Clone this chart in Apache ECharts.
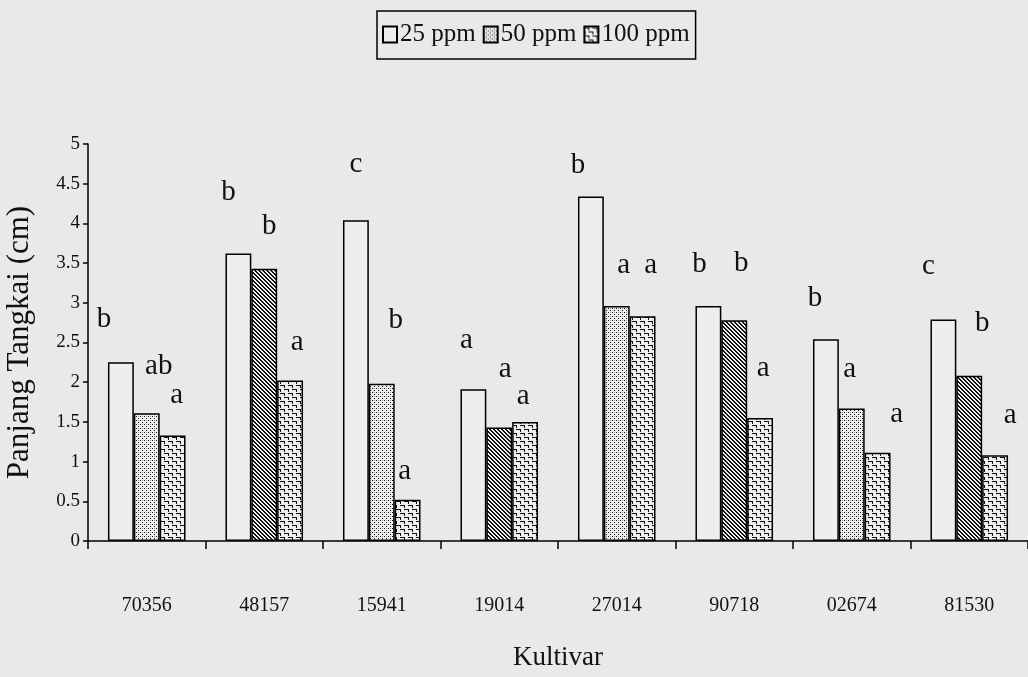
<!DOCTYPE html>
<html>
<head>
<meta charset="utf-8">
<script src="https://cdn.jsdelivr.net/npm/echarts@6/dist/echarts.min.js"></script>
<style>
  html, body { margin: 0; padding: 0; background: #e9e9eb; }
  #chart { width: 1028px; height: 677px; }
</style>
</head>
<body>
<div id="chart"></div>
<script>
// data
var kultivar = ['70356', '48157', '15941', '19014', '27014', '90718', '02674', '81530'];
var seriesNames = ['25 ppm', '50 ppm', '100 ppm'];
var ppm25 = [2.25, 3.62, 4.04, 1.91, 4.34, 2.96, 2.54, 2.79];
var ppm50 = [1.61, 3.43, 1.98, 1.43, 2.96, 2.78, 1.67, 2.08];
var ppm100 = [1.33, 2.02, 0.52, 1.50, 2.83, 1.55, 1.11, 1.08];
var notasi25 = ['b', 'b', 'c', 'a', 'b', 'b', 'b', 'c'];
var notasi50 = ['ab', 'b', 'b', 'a', 'a', 'b', 'a', 'b'];
var notasi100 = ['a', 'a', 'a', 'a', 'a', 'a', 'a', 'a'];

// layout: nudges for the letters above each bar [dx, dy]
var letterShift = [
  [[-17, -28], [-10, -47], [0, -41], [-7, -34], [-13, -17], [-9, -27], [-11, -26], [-15, -39]],
  [[12, -32], [5, -28], [14, -49], [6, -44], [7, -26], [7, -42], [-2, -25], [13, -38]],
  [[4, -26], [7, -24], [-3, -14], [-2, -11], [8, -36], [3, -35], [19, -24], [15, -25]]
];

var SERIF = '"Liberation Serif", "Times New Roman", serif';
var FILL = '#eeeeef';

function makePattern(w, h, draw) {
  var c = document.createElement('canvas');
  c.width = w;
  c.height = h;
  var ctx = c.getContext('2d');
  ctx.fillStyle = FILL;
  ctx.fillRect(0, 0, w, h);
  ctx.fillStyle = '#111';
  draw(ctx);
  return { image: c, repeat: 'repeat' };
}

// stipple
var dots = makePattern(4, 4, function(ctx) {
  ctx.fillRect(0, 0, 1, 1);
  ctx.fillRect(2, 2, 1, 1);
  ctx.fillStyle = 'rgba(0,0,0,0.35)';
  ctx.fillRect(2, 0, 1, 1);
});
// dark diagonal hatch
var hatch = makePattern(4, 4, function(ctx) {
  for (var i = 0; i < 4; i++) {
    ctx.fillRect(i, i, 1, 1);
    ctx.fillRect((i + 1) % 4, i, 1, 1);
  }
});
// brick-ish marks
var brick = makePattern(8, 8, function(ctx) {
  ctx.fillRect(0, 1, 5, 1);
  ctx.fillRect(4, 1, 1, 3);
  ctx.fillRect(4, 5, 4, 1);
  ctx.fillRect(0, 5, 1, 3);
});

var values = [ppm25, ppm50, ppm100];
var notes = [notasi25, notasi50, notasi100];
var fills = [FILL, dots, brick];

var series = seriesNames.map(function(name, s) {
  return {
    name: name,
    type: 'bar',
    barGap: '0%',
    barCategoryGap: '34%',
    itemStyle: { color: fills[s], borderColor: '#000', borderWidth: 1.5 },
    label: {
      show: true,
      position: 'top',
      distance: 0,
      fontFamily: SERIF,
      fontSize: 29,
      color: '#111',
      formatter: function(p) { return notes[s][p.dataIndex]; }
    },
    data: values[s].map(function(v, i) {
      var item = { value: v, label: { offset: letterShift[s][i] } };
      // the 50 ppm bar alternates stipple / hatch between cultivars
      if (s === 1 && i % 2 === 1) item.itemStyle = { color: hatch };
      return item;
    })
  };
});

var chart = echarts.init(document.getElementById('chart'));
chart.setOption({
  backgroundColor: '#e9e9eb',
  animation: false,
  legend: {
    data: seriesNames,
    icon: 'rect',
    left: 377,
    top: 11,
    padding: [11, 6, 12, 5],
    itemGap: 7,
    itemWidth: 14,
    itemHeight: 16,
    borderColor: '#000',
    borderWidth: 1.5,
    textStyle: { fontFamily: SERIF, fontSize: 25, color: '#111', padding: [0, 0, 0, -2] }
  },
  grid: { left: 88, right: 0, top: 144, bottom: 136, outerBoundsMode: 'none' },
  xAxis: {
    type: 'category',
    data: kultivar,
    name: 'Kultivar',
    nameLocation: 'middle',
    nameGap: 103,
    nameTextStyle: { fontFamily: SERIF, fontSize: 27, color: '#111' },
    axisLine: { lineStyle: { color: '#000', width: 1.5 } },
    axisTick: { show: true, alignWithLabel: false, length: 8, lineStyle: { color: '#000', width: 1.5 } },
    axisLabel: { margin: 55, fontFamily: SERIF, fontSize: 20, color: '#111' }
  },
  yAxis: {
    type: 'value',
    min: 0,
    max: 5,
    interval: 0.5,
    name: 'Panjang Tangkai (cm)',
    nameLocation: 'middle',
    nameGap: 53,
    nameTextStyle: { fontFamily: SERIF, fontSize: 31, color: '#111' },
    splitLine: { show: false },
    axisLine: { show: true, lineStyle: { color: '#000', width: 1.5 } },
    axisTick: { show: true, length: 5, lineStyle: { color: '#000', width: 1.5 } },
    axisLabel: { margin: 8, fontFamily: SERIF, fontSize: 19, color: '#111' }
  },
  series: series
});
</script>
</body>
</html>
